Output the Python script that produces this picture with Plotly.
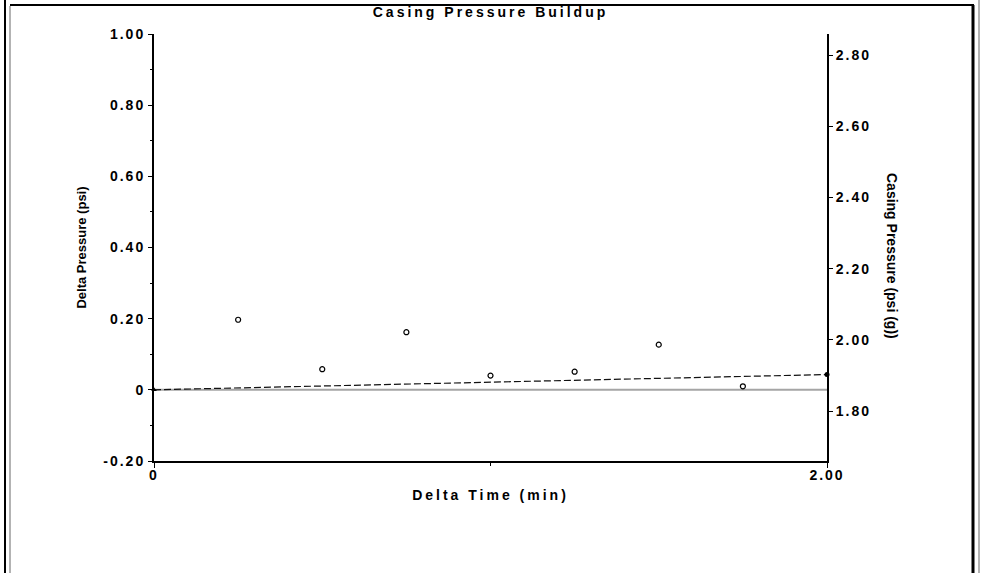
import plotly.graph_objects as go

# ---- data ----
delta_time = [0.25, 0.50, 0.75, 1.00, 1.25, 1.50, 1.75]
delta_pressure = [0.197, 0.058, 0.162, 0.040, 0.051, 0.127, 0.010]
fit_time = [0.0, 2.0]
fit_pressure = [0.0, 0.043]
base_time = [0.0, 2.0]
base_pressure = [0.0, 0.0]

x_tickvals = [0, 2.0]
x_ticktext = ["0", "2.00"]
y_tickvals = [-0.2, 0, 0.2, 0.4, 0.6, 0.8, 1.0]
y_ticktext = ["-0.20", "0", "0.20", "0.40", "0.60", "0.80", "1.00"]
y2_tickvals = [1.8, 2.0, 2.2, 2.4, 2.6, 2.8]
y2_ticktext = ["1.80", "2.00", "2.20", "2.40", "2.60", "2.80"]
delta_range = [-0.2, 1.0]
casing_range = [1.6595, 2.8595]
time_range = [0, 2.0]

# ---- layout geometry ----
W, H = 981, 573
L, R, T, B = 154, 981 - 827, 34, 573 - 461
PW, PH = W - L - R, H - T - B


def px(x):
    return (x - L) / PW


def py(y):
    return (H - B - y) / PH


FONT = "Arial, 'Liberation Sans', sans-serif"

fig = go.Figure()

fig.add_trace(go.Scatter(
    x=base_time, y=base_pressure, mode="lines",
    line=dict(color="#a5a5a5", width=2), showlegend=False, hoverinfo="skip"))

fig.add_trace(go.Scatter(
    x=fit_time, y=fit_pressure, mode="lines+markers",
    line=dict(color="#111111", width=1.2, dash="7px,3px"),
    marker=dict(symbol=["triangle-up", "circle"], size=5, color="black"),
    showlegend=False, cliponaxis=False))

fig.add_trace(go.Scatter(
    x=delta_time, y=delta_pressure, mode="markers",
    marker=dict(symbol="circle-open", size=5, color="black", line=dict(width=1.2)),
    showlegend=False, cliponaxis=False))

# empty trace to bring up the right-hand axis
fig.add_trace(go.Scatter(x=[], y=[], yaxis="y2", showlegend=False))

axis_font = dict(family=FONT, size=14, color="black", weight="bold")

fig.update_layout(
    width=W, height=H,
    margin=dict(l=L, r=R, t=T, b=B),
    paper_bgcolor="white", plot_bgcolor="white",
    title=dict(text="<b>Casing Pressure Buildup</b>", x=0.5, xanchor="center",
               y=(H - 12) / H, yanchor="middle", yref="container",
               font=dict(family=FONT, size=14, color="black")),
    xaxis=dict(range=time_range, tickvals=x_tickvals, ticktext=x_ticktext,
               showgrid=False, zeroline=False, showline=True, linecolor="black",
               linewidth=2, ticks="outside", ticklen=5, tickwidth=1, tickcolor="black",
               ticklabelstandoff=-5,
               minor=dict(dtick=1, ticks="outside", ticklen=3, tickcolor="black"),
               tickfont=axis_font,
               title=dict(text="Delta Time (min)", font=axis_font, standoff=8)),
    yaxis=dict(range=delta_range, tickvals=y_tickvals, ticktext=y_ticktext,
               showgrid=False, zeroline=False, showline=True, linecolor="black",
               linewidth=2, ticks="outside", ticklen=4, tickwidth=1, tickcolor="black",
               minor=dict(dtick=0.1, tick0=0, ticks="outside", ticklen=2, tickcolor="black"),
               tickfont=axis_font,
               title=dict(text="Delta Pressure (psi)",
                          font=dict(family=FONT, size=13, color="black", weight="bold"),
                          standoff=24)),
    yaxis2=dict(range=casing_range, tickvals=y2_tickvals, ticktext=y2_ticktext,
                overlaying="y", side="right", anchor="x",
                showgrid=False, zeroline=False, showline=True, linecolor="black",
                linewidth=2, ticks="outside", ticklen=4, tickwidth=1, tickcolor="black",
                tickfont=axis_font),
    annotations=[dict(text="<b>Casing Pressure (psi (g))</b>", xref="paper", yref="paper",
                      x=px(892), y=py(256), xanchor="center", yanchor="middle",
                      textangle=90, showarrow=False,
                      font=dict(family=FONT, size=14, color="black"))],
    shapes=[
        dict(type="line", xref="paper", yref="paper", x0=px(5), x1=px(5), y0=py(0), y1=py(573),
             line=dict(color="black", width=2)),
        dict(type="line", xref="paper", yref="paper", x0=px(10), x1=px(10), y0=py(6), y1=py(573),
             line=dict(color="#9a9a9a", width=1.5)),
        dict(type="line", xref="paper", yref="paper", x0=px(10), x1=px(974), y0=py(5), y1=py(5),
             line=dict(color="black", width=2)),
        dict(type="line", xref="paper", yref="paper", x0=px(973), x1=px(973), y0=py(5), y1=py(573),
             line=dict(color="black", width=3)),
        dict(type="line", xref="paper", yref="paper", x0=px(979), x1=px(979), y0=py(0), y1=py(573),
             line=dict(color="#9a9a9a", width=1.5)),
    ],
)

post = """
document.body.style.margin = '0';
document.documentElement.style.overflow = 'hidden';
var s = document.createElement('style');
s.textContent = '.gtitle{letter-spacing:3px} .xtitle{letter-spacing:3px} '
  + '.xtick text,.ytick text,.y2tick text{letter-spacing:2px}';
document.head.appendChild(s);
"""

fig.write_html("out.html", post_script=post, config={"displayModeBar": False})
